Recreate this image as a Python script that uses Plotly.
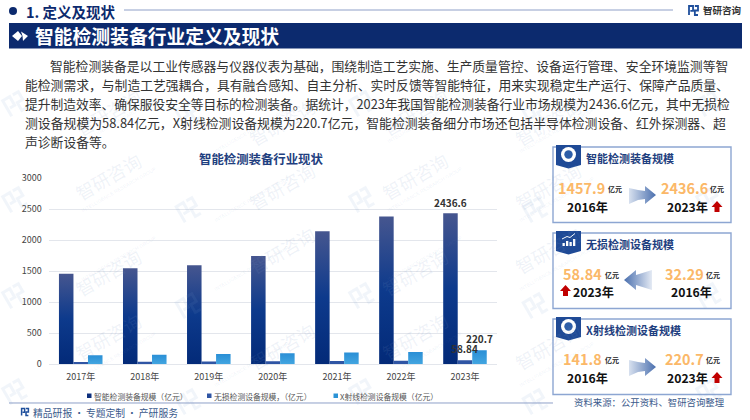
import math
import plotly.graph_objects as go

# ---------- data ----------
years = ["2017年", "2018年", "2019年", "2020年", "2021年", "2022年", "2023年"]
equipment = [1457.9, 1547, 1596, 1746, 2146, 2382, 2436.6]
nondestructive = [32.29, 36, 40, 44, 47, 52, 58.84]
xray = [141.8, 150, 160, 172, 185, 195, 220.7]
series_names = ["智能检测装备规模（亿元）", "无损检测设备规模，（亿元）", "X射线检测设备规模（亿元）"]
paragraph = [
    "智能检测装备是以工业传感器与仪器仪表为基础，围绕制造工艺实施、生产质量管控、设备运行管理、安全环境监测等智",
    "能检测需求，与制造工艺强耦合，具有融合感知、自主分析、实时反馈等智能特征，用来实现稳定生产运行、保障产品质量、",
    "提升制造效率、确保服役安全等目标的检测装备。据统计，2023年我国智能检测装备行业市场规模为2436.6亿元，其中无损检",
    "测设备规模为58.84亿元，X射线检测设备规模为220.7亿元，智能检测装备细分市场还包括半导体检测设备、红外探测器、超",
    "声诊断设备等。",
]
paragraph_sizes = [12.8, 12.8, 12.75, 12.85, 12.8]

W, H = 750, 420
FONT = "Noto Sans CJK SC"
NAVY = "#0c2a6e"
TITLE = "#1f3f80"
ORANGE = "#fbb868"
RED = "#c00000"
px = lambda x: x / W
py = lambda y: 1 - y / H

ann, shp = [], []


def T(text, x, y, size, color="#333333", bold=False, anchor="left"):
    ann.append(dict(text=f"<b>{text}</b>" if bold else text, x=px(x), y=py(y), xref="paper", yref="paper",
                    xanchor=anchor, yanchor="middle", showarrow=False,
                    font=dict(size=size, color=color, family=FONT), borderpad=0, borderwidth=0))


def P(path, fill="rgba(0,0,0,0)", line=None, lw=1, layer="above"):
    shp.append(dict(type="path", path=path, xref="paper", yref="paper", fillcolor=fill, layer=layer,
                    line=dict(color=line or "rgba(0,0,0,0)", width=lw if line else 0)))


def poly(points):
    return "M" + " L".join(f"{px(a):.5f},{py(b):.5f}" for a, b in points) + " Z"


def line(points, color, lw, layer="above"):
    P("M" + " L".join(f"{px(a):.5f},{py(b):.5f}" for a, b in points), line=color, lw=lw, layer=layer)


def circle(cx, cy, r, fill, layer="above"):
    shp.append(dict(type="circle", xref="paper", yref="paper", x0=px(cx - r), x1=px(cx + r), y0=py(cy + r), y1=py(cy - r),
                    fillcolor=fill, line=dict(width=0), layer=layer))


def rect(x0, y0, x1, y1, fill, border=None, lw=1, layer="above"):
    shp.append(dict(type="rect", xref="paper", yref="paper", x0=px(x0), x1=px(x1), y0=py(y1), y1=py(y0),
                    fillcolor=fill, line=dict(width=lw if border else 0, color=border or "rgba(0,0,0,0)"), layer=layer))


def logo(x, y, s, color, rot=0.0, lw=2.0):
    """small company mark, s = unit size"""
    c, n = math.cos(rot), math.sin(rot)
    def R(a, b):
        return (x + (a * c + b * n) * s, y + (-a * n + b * c) * s)
    line([R(-1, 1), R(-1, -1), R(-0.1, -1), R(-0.1, 0.1), R(-0.7, 0.1)], color, lw)
    line([R(0.3, -1), R(1, -1), R(1, 0), R(0.3, 0), R(0.3, 1), R(1, 1)], color, lw)


# ---------- watermarks ----------
WM = "rgba(120,150,195,0.12)"
WML = "rgba(120,160,210,0.10)"
for i in range(5):
    for j in range(-1, 3):
        ox = 15 + 173.5 * i
        oy = 200 + 96 * j + (10 if i % 2 else 0)
        logo(ox, oy, 9, WML, rot=math.radians(30), lw=3)
        if ox + 63 > 700:
            continue
        ann.append(dict(text="智研咨询", x=px(ox + 53), y=py(oy - 24), xref="paper", yref="paper", showarrow=False,
                        textangle=-30, font=dict(size=18, color=WM, family=FONT)))
        ann.append(dict(text="INTELLIGENCE RESEARCH GROUP", x=px(ox + 63), y=py(oy - 11), xref="paper", yref="paper",
                        showarrow=False, textangle=-30, font=dict(size=5, color=WM, family="Liberation Sans")))

# ---------- header ----------
circle(13, 11, 4, NAVY)
T("1. 定义及现状", 26, 11, 14.5, NAVY, True)
line([(124, 10), (673, 10)], "#8fa0c8", 1)
logo(693.5, 10.5, 4.5, "#1f4f9c", lw=1.8)
T("智研咨询", 703, 10, 9.5, "#333333", True)
rect(9, 23, 742, 48.5, NAVY)
P(poly([(12, 36), (18, 31), (22, 36), (18, 41)]), "#ffffff")
P(poly([(21, 31.5), (28, 36), (23, 41), (22.5, 36)]), "#ffffff")
T("智能检测装备行业定义及现状", 35, 35.5, 18.8, "#ffffff", True)

for k, s in enumerate(paragraph):
    T(s, 50 if k == 0 else 25, 65.5 + 19 * k, paragraph_sizes[k], "#333333")

T("智能检测装备行业现状", 261, 159, 12.4, TITLE, True, "center")

# ---------- legend ----------
legend_colors = ["#0d2f7d", "#2f55a4", "#2b93d6"]
for lx, c, s in zip([87, 207, 333.5], legend_colors, series_names):
    rect(lx, 393.5, lx + 4.5, 398, c)
    T(s, lx + 6.5, 396, 7.8, "#555555")

# ---------- footer ----------
line([(9, 403), (553, 403)], "#8fa0c8", 1)
logo(25, 412, 3.4, "#1f4f9c", lw=1.5)
T("精品研报\u2009·\u2009专题定制\u2009·\u2009产研服务", 33, 412.5, 9.8, "#3b5a8c")
T("资料来源：公开资料、智研咨询整理", 574, 402, 9.4, "#3b5a8c")


# ---------- cards ----------
def arrow_right(x0, x1, cy):
    P(poly([(x0, cy - 7), (x0 + 9, cy - 5), (x1 - 11, cy - 4), (x1 - 11, cy - 9), (x1, cy), (x1 - 11, cy + 9),
            (x1 - 11, cy + 4), (x0 + 9, cy + 5), (x0, cy + 9)]), "#5a7db5")


def up(cx, cy):
    P(poly([(cx, cy - 6), (cx + 5.5, cy), (cx + 2.5, cy), (cx + 2.5, cy + 5), (cx - 2.5, cy + 5), (cx - 2.5, cy),
            (cx - 5.5, cy)]), RED)


def card(y0, title, icon="circle"):
    y1 = y0 + 75.5
    rect(553, y0, 731, y1, "#ffffff", "#8da6d2", 1.4, layer="below")
    P(poly([(556, y0 - 2), (581, y0 - 2), (581, y0 + 18), (568.5, y0 + 21.5), (556, y0 + 18)]), "#1f4a96")
    if icon == "circle":
        circle(568.5, y0 + 7.5, 7.5, "#ffffff")
        circle(568.5, y0 + 7.5, 4.2, "#2e5ea8")
    else:
        for bx, bh in zip([562.5, 566, 569.5, 573], [3, 5, 4, 7]):
            rect(bx, y0 + 13 - bh, bx + 2.3, y0 + 13, "#ffffff")
        line([(562, y0 + 6), (567, y0 + 3.5), (570, y0 + 4.5), (575, y0 + 0.5)], "#ffffff", 1)
    T(title, 586, y0 + 11, 11, TITLE, True)


VAL = 14.4
UNIT = 7
YR = 12.2

card(147, "智能检测装备规模")
T("1457.9", 558, 187, VAL, ORANGE, True)
T("亿元", 608, 189, UNIT, "#222222", True)
T("2016年", 587, 206.5, YR, "#111111", True, "center")
arrow_right(629, 656, 195)
T("2436.6", 661, 187, VAL, ORANGE, True)
T("亿元", 710, 189, UNIT, "#222222", True)
T("2023年", 687, 206.5, YR, "#111111", True, "center")
up(717, 207)

card(233, "无损检测设备规模", "bars")
T("58.84", 563, 273, VAL, ORANGE, True)
T("亿元", 605, 275, UNIT, "#222222", True)
T("2023年", 593, 292, YR, "#111111", True, "center")
up(565.5, 291)
P(poly([(624, 280), (636, 270), (636, 275), (652, 270), (652, 290), (636, 285), (636, 290)]), "#5a7db6")
T("32.29", 665, 273, VAL, ORANGE, True)
T("亿元", 706, 275, UNIT, "#222222", True)
T("2016年", 691, 292, YR, "#111111", True, "center")

card(319, "X射线检测设备规模")
T("141.8", 563, 358, VAL, ORANGE, True)
T("亿元", 605, 360, UNIT, "#222222", True)
T("2016年", 587, 377.5, YR, "#111111", True, "center")
arrow_right(629, 656, 367)
T("220.7", 665, 358, VAL, ORANGE, True)
T("亿元", 706, 360, UNIT, "#222222", True)
T("2023年", 687, 377.5, YR, "#111111", True, "center")
up(717, 378)

# ---------- chart ----------
fig = go.Figure()
for name, vals, color in zip(series_names, [equipment, nondestructive, xray], legend_colors):
    fig.add_trace(go.Bar(x=years, y=vals, name=name, marker=dict(color=color, line=dict(width=0)), showlegend=False))

# value labels attached to the 2023 bars
for val, shift, ys in [(equipment[-1], 0, 1), (nondestructive[-1], 14.5, 2), (xray[-1], 29, 2)]:
    ann.append(dict(x=years[-1], y=val, xref="x", yref="y", text=f"<b>{val}</b>", showarrow=False, yanchor="bottom",
                    xshift=shift - 14.5, yshift=ys, font=dict(size=10, color="#333333", family=FONT)))

fig.update_layout(
    width=W, height=H, margin=dict(l=0, r=0, t=0, b=0, pad=0, autoexpand=False), paper_bgcolor="#ffffff",
    plot_bgcolor="rgba(0,0,0,0)",
    barmode="group", bargap=0.32, bargroupgap=0, showlegend=False, font=dict(family=FONT),
    xaxis=dict(domain=[px(48.7), px(497)], categoryorder="array", categoryarray=years, showgrid=False, showline=True,
               linecolor="#e3e6ec", linewidth=1, ticks="", tickfont=dict(size=9, color="#444444", family=FONT),
               ticklabelstandoff=4),
    yaxis=dict(domain=[py(364), py(178.3)], range=[0, 3000], tickvals=[0, 500, 1000, 1500, 2000, 2500, 3000],
               gridcolor="#e3e6ec", gridwidth=1, zeroline=False, ticks="", tickfont=dict(size=9, color="#444444", family=FONT),
               ticklabelstandoff=6),
    annotations=ann, shapes=shp,
)

post = """
document.body.style.margin='0';document.documentElement.style.overflow='hidden';
(function(){
 var gd=document.getElementsByClassName('plotly-graph-div')[0];
 var svgs=gd.querySelectorAll('svg.main-svg');var svg=svgs[0];
 var NS='http://www.w3.org/2000/svg';
 function grad(id,x2,y2,stops){var g=document.createElementNS(NS,'linearGradient');g.setAttribute('id',id);
  g.setAttribute('x1','0');g.setAttribute('y1','0');g.setAttribute('x2',x2);g.setAttribute('y2',y2);
  stops.forEach(function(s){var e=document.createElementNS(NS,'stop');e.setAttribute('offset',s[0]);e.setAttribute('stop-color',s[1]);g.appendChild(e);});
  svg.querySelector('defs').appendChild(g);}
 grad('gMain','0','1',[['0','#46568f'],['0.5','#0d3a8c'],['1','#032a78']]);
 grad('gX','0','1',[['0','#2a8fd6'],['1','#42a5e0']]);
 grad('gR','1','0',[['0','#d8e1ef'],['1','#4a6fae']]);
 grad('gL','1','0',[['0','#4a6fae'],['1','#e4eaf4']]);
 var tr=gd.querySelectorAll('.bars .trace.bars, .barlayer .trace');
 function paint(t,id){t.querySelectorAll('path').forEach(function(p){p.style.fill='url(#'+id+')';});}
 if(tr.length>=3){paint(tr[0],'gMain');paint(tr[2],'gX');}
 gd.querySelectorAll('.shapelayer path').forEach(function(p){var f=p.style.fill;
  if(f=='rgb(90, 125, 181)')p.style.fill='url(#gR)';
  if(f=='rgb(90, 125, 182)')p.style.fill='url(#gL)';});
})();
"""
fig.write_html("out.html", post_script=post, config=dict(displayModeBar=False))
